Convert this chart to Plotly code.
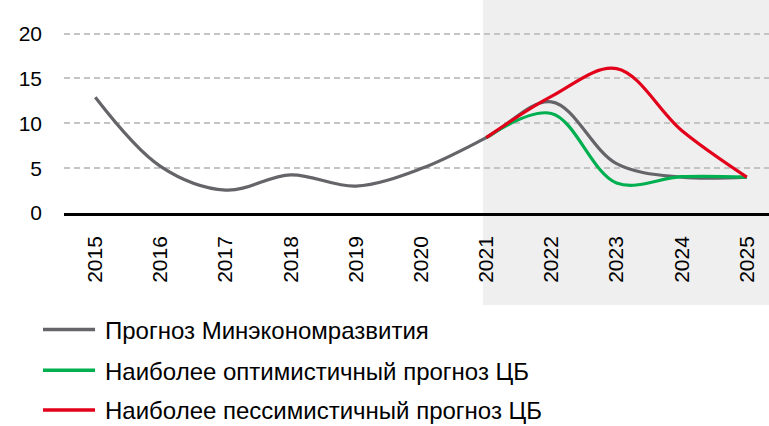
import plotly.graph_objects as go

years = [2015, 2016, 2017, 2018, 2019, 2020, 2021, 2022, 2023, 2024, 2025]
minek = [12.9, 5.2, 2.55, 4.25, 3.0, 4.95, 8.4, 12.4, 5.5, 4.0, 4.0]
fc_years = [2021, 2022, 2023, 2024, 2025]
cb_opt = [8.4, 11.1, 3.35, 4.05, 4.0]
cb_pes = [8.4, 13.0, 16.1, 9.2, 4.0]
names = ["Прогноз Минэкономразвития",
         "Наиболее оптимистичный прогноз ЦБ",
         "Наиболее пессимистичный прогноз ЦБ"]
colors = ["#646469", "#00AF50", "#E2001A"]
ytick_vals = [0, 5, 10, 15, 20]

font = "Liberation Sans, Arial, sans-serif"

fig = go.Figure()
series = [(years, minek), (fc_years, cb_opt), (fc_years, cb_pes)]
for (xs, ys), nm, col in zip(series, names, colors):
    fig.add_trace(go.Scatter(x=xs, y=ys, name=nm, mode="lines", showlegend=False,
                             line=dict(color=col, width=3.2, shape="spline", smoothing=1.0)))

fig.add_shape(type="rect", xref="x", yref="paper", x0=2020.95, x1=2026, y0=-0.432, y1=1,
              fillcolor="#EFEFEF", line=dict(width=0), layer="below")

# custom legend (line sample + label) below the plot
legend_y = [-0.547, -0.738, -0.925]
for nm, col, ly in zip(names, colors, legend_y):
    fig.add_shape(type="line", xref="paper", yref="paper", x0=-0.0298, x1=0.044,
                  y0=ly, y1=ly, line=dict(color=col, width=3.5))
    fig.add_annotation(xref="paper", yref="paper", x=0.0553, y=ly - 0.004, text=nm,
                       showarrow=False, xanchor="left", yanchor="middle",
                       font=dict(family=font, size=24, color="#000000"))

fig.update_layout(
    width=769, height=426,
    margin=dict(l=64, r=0, t=0, b=213),
    paper_bgcolor="white", plot_bgcolor="rgba(0,0,0,0)",
    font=dict(family=font, size=20, color="#000000"),
    showlegend=False,
    xaxis=dict(range=[2014.52, 2025.34], tickvals=years, ticktext=[str(y) for y in years],
               tickangle=-90, showgrid=False, zeroline=False, showline=True, automargin=False,
               linecolor="#000000", linewidth=2.5, ticks="", ticklabelstandoff=12,
               tickfont=dict(family=font, size=21)),
    yaxis=dict(range=[0, 23.75], tickvals=ytick_vals, showgrid=True, gridcolor="#C4C4C4",
               gridwidth=1.5, griddash="6px,4px", zeroline=False, showline=False, ticks="",
               automargin=False, ticklabelstandoff=21, tickfont=dict(family=font, size=21)),
)

fig.write_html("out.html", config={"displayModeBar": False},
               post_script="document.body.style.margin='0';document.body.style.overflow='hidden';")
